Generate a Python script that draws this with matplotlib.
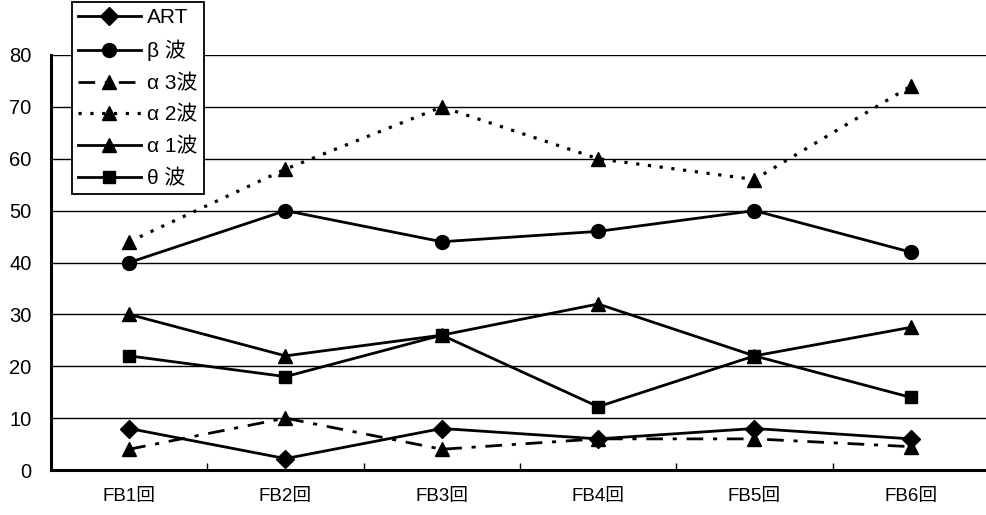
import numpy as np
import matplotlib.pyplot as plt

plt.rcParams['font.family'] = ['Liberation Sans', 'Noto Sans CJK JP', 'DejaVu Sans']

# sessions and measured values
sessions = ['FB1回', 'FB2回', 'FB3回', 'FB4回', 'FB5回', 'FB6回']
art = [8, 2.2, 8, 6, 8, 6]
beta = [40, 50, 44, 46, 50, 42]
alpha3 = [4, 10, 4, 6, 6, 4.5]
alpha2 = [44, 58, 70, 60, 56, 74]
alpha1 = [30, 22, 26, 32, 22, 27.5]
theta = [22, 18, 26, 12.2, 22, 14]

fig = plt.figure(figsize=(9.87, 5.15), dpi=100)
ax = fig.add_axes([51 / 987, 1 - 470 / 515, 1 - 51 / 987 + 0.002, 415 / 515])

x = np.arange(len(sessions))
lw = 2.0
ax.plot(x, art, color='black', lw=lw, marker='D', ms=9, label='ART', zorder=3)
ax.plot(x, beta, color='black', lw=lw, marker='o', ms=10, label='β 波', zorder=3)
ax.plot(x, alpha3, color='black', lw=lw, ls=(0, (6, 3.5, 1.5, 3.5)), marker='^', ms=10,
        label='α 3波', zorder=3)
ax.plot(x, alpha2, color='black', lw=2.3, ls=(0, (1, 2.7)), marker='^', ms=10,
        label='α 2波', zorder=3)
ax.plot(x, alpha1, color='black', lw=lw, marker='^', ms=10, label='α 1波', zorder=3)
ax.plot(x, theta, color='black', lw=lw, marker='s', ms=8, label='θ 波', zorder=3)

ax.set_xlim(-0.5, len(sessions) - 0.5)
ax.set_ylim(0, 80)
ax.set_yticks(np.arange(0, 81, 10))
ax.yaxis.grid(True, color='black', lw=1.0)
ax.set_axisbelow(True)

# category boundaries as small inward ticks, labels centred between them
ax.set_xticks(np.arange(-0.5, len(sessions), 1))
ax.set_xticklabels([])
ax.tick_params(axis='x', which='major', direction='in', length=5, width=1)
ax.set_xticks(x, minor=True)
ax.set_xticklabels(sessions, minor=True, fontsize=13.5)
ax.tick_params(axis='x', which='minor', length=0, pad=13)
ax.tick_params(axis='y', length=0, pad=14, labelsize=14.5)

for side in ['top', 'right']:
    ax.spines[side].set_visible(False)
ax.spines['left'].set_linewidth(2.2)
ax.spines['bottom'].set_linewidth(2.2)

leg = ax.legend(loc='upper left', bbox_to_anchor=(72 / 987, 1 - 2 / 515),
                bbox_transform=fig.transFigure, fontsize=15, frameon=True,
                fancybox=False, edgecolor='black', framealpha=1,
                handlelength=3.0, labelspacing=0.6, borderpad=0.3,
                handletextpad=0.3, borderaxespad=0)
leg.get_frame().set_linewidth(1.3)
leg.set_zorder(5)

fig.savefig('out.png', dpi=100)
